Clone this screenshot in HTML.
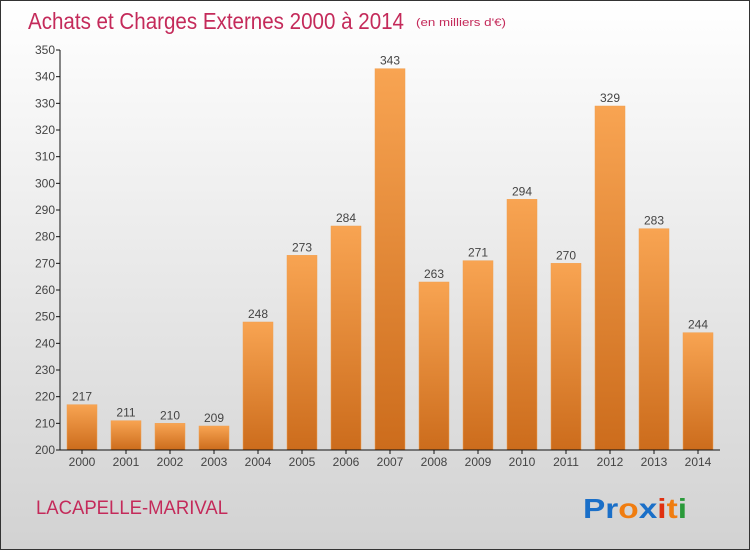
<!DOCTYPE html>
<html><head><meta charset="utf-8"><style>
html,body{margin:0;padding:0}
body{width:750px;height:550px;overflow:hidden;font-family:"Liberation Sans",sans-serif}
#wrap{position:absolute;left:0;top:0;width:748px;height:548px;border:1px solid #333;background:linear-gradient(#ffffff,#d2d2d2)}
</style></head><body>
<div id="wrap">
<svg width="748" height="548" viewBox="1 1 748 548" style="position:absolute;left:0;top:0">
<defs><linearGradient id="bg" x1="0" y1="0" x2="0" y2="1"><stop offset="0" stop-color="#f8a452"/><stop offset="1" stop-color="#cc6c1c"/></linearGradient></defs>
<text x="28" y="29" font-size="23" fill="#c42a5a" textLength="376" lengthAdjust="spacingAndGlyphs">Achats et Charges Externes 2000 à 2014</text>
<text x="416" y="26" font-size="11" fill="#c42a5a" textLength="90" lengthAdjust="spacingAndGlyphs">(en milliers d'€)</text>
<g id="plot"></g>
<text x="36" y="514" font-size="19" fill="#c42a5a" textLength="192" lengthAdjust="spacingAndGlyphs">LACAPELLE-MARIVAL</text>
<text x="583" y="518" font-size="28" font-weight="bold" textLength="104" lengthAdjust="spacingAndGlyphs"><tspan fill="#1a6fc8">Pr</tspan><tspan fill="#f07d10">o</tspan><tspan fill="#1a6fc8">x</tspan><tspan fill="#e03010">i</tspan><tspan fill="#f07d10">t</tspan><tspan fill="#2a9a3a">i</tspan></text>
</svg>
</div>
<script>
const categories=["2000","2001","2002","2003","2004","2005","2006","2007","2008","2009","2010","2011","2012","2013","2014"];
const values=[217,211,210,209,248,273,284,343,263,271,294,270,329,283,244];
const yTicks=[200,210,220,230,240,250,260,270,280,290,300,310,320,330,340,350];
const NS="http://www.w3.org/2000/svg";
const g=document.getElementById('plot');
const x0=60,band=44,yTop=50,yBot=450,vMin=200,vMax=350;
function y(v){return yBot-(v-vMin)/(vMax-vMin)*(yBot-yTop);}
function xc(i){return x0+band*i+band/2;}
function mk(t,a,txt){const e=document.createElementNS(NS,t);for(const k in a)e.setAttribute(k,a[k]);if(txt!==undefined)e.textContent=txt;g.appendChild(e);return e;}
yTicks.forEach(t=>{
 const l=mk('line',{x1:x0-4,x2:x0,y1:y(t),y2:y(t),stroke:'#111'});
 
 
 const tx=mk('text',{x:x0-5,y:y(t)+4,'font-size':12,fill:'#444','text-anchor':'end'},t);
 
 
});
categories.forEach((c,i)=>{
 const v=values[i];
 const r=mk('rect',{x:xc(i)-15,y:y(v),width:30,height:yBot-y(v),fill:'url(#bg)',stroke:'#f0a050','stroke-width':0.5});
 
 
 const vl=mk('text',{x:xc(i),y:y(v)-4,'font-size':12,fill:'#444','text-anchor':'middle'},v);
 
 
 const tk=mk('line',{x1:xc(i),x2:xc(i),y1:yBot,y2:yBot+4,stroke:'#111'});
 
 
 const xl=mk('text',{x:xc(i),y:yBot+16,'font-size':12,fill:'#444','text-anchor':'middle'},c);
 
 
});
const ya=mk('line',{x1:x0,x2:x0,y1:yTop,y2:yBot,stroke:'#111'});


const xa=mk('line',{x1:x0,x2:x0+band*categories.length,y1:yBot,y2:yBot,stroke:'#111'});


</script>
</body></html>
